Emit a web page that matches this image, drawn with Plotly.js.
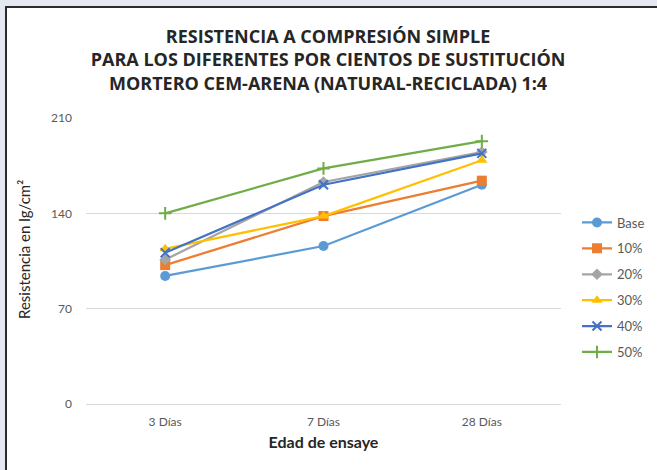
<!DOCTYPE html>
<html>
<head>
<meta charset="utf-8">
<script src="https://cdn.plot.ly/plotly-3.0.1.min.js"></script>
<style>
  html, body { margin: 0; padding: 0; background: #e4e8f1; overflow: hidden; }
  #frame {
    position: absolute; left: 5px; top: 6px;
    border-left: 2px solid #2b2b2b; border-top: 2px solid #2b2b2b;
    box-shadow: inset 1px 1px 0 #a0a0a0;
    background: #ffffff;
  }
  #chart { width: 650px; height: 462px; }
</style>
</head>
<body>
<div id="frame"><div id="chart"></div></div>
<script>
// Edad de ensaye (categorías del eje X)
const edades = ['3 Días', '7 Días', '28 Días'];

// Resistencia (kg/cm²) por porcentaje de sustitución
const base = [94, 116, 161];
const p10 = [102, 138, 164];
const p20 = [106, 163, 185];
const p30 = [114, 138, 179];
const p40 = [111, 161, 184];
const p50 = [140, 173, 193];

const yTicks = [0, 70, 140, 210];

const series = [
  { name: 'Base', y: base, color: '#5B9BD5', symbol: 'circle', size: 10 },
  { name: '10%',  y: p10,  color: '#ED7D31', symbol: 'square', size: 10 },
  { name: '20%',  y: p20,  color: '#A5A5A5', symbol: 'diamond', size: 9 },
  { name: '30%',  y: p30,  color: '#FFC000', symbol: 'triangle-up', size: 10 },
  { name: '40%',  y: p40,  color: '#4472C4', symbol: 'x-thin-open', size: 9 },
  { name: '50%',  y: p50,  color: '#70AD47', symbol: 'cross-thin-open', size: 9 }
];

const traces = series.map((s, i) => ({
  type: 'scatter',
  mode: 'lines+markers',
  name: s.name,
  x: edades,
  y: s.y,
  legendgroup: 'g' + i,
  line: { color: s.color, width: 2.25 },
  marker: {
    symbol: s.symbol, size: s.size, color: s.color,
    line: { color: s.color, width: s.symbol.indexOf('open') >= 0 ? 2 : 0 }
  }
}));

const layout = {
  width: 650,
  height: 462,
  paper_bgcolor: '#ffffff',
  plot_bgcolor: '#ffffff',
  font: { family: 'Lato, "Open Sans", sans-serif', color: '#595959', size: 12 },
  margin: { l: 79, r: 96, t: 110, b: 66 },
  title: {
    text: 'RESISTENCIA A COMPRESIÓN SIMPLE<br>PARA LOS DIFERENTES POR CIENTOS DE SUSTITUCIÓN<br>MORTERO CEM-ARENA (NATURAL-RECICLADA) 1:4',
    font: { family: '"Open Sans", Lato, sans-serif', size: 18, color: '#262626', weight: 'bold' },
    xref: 'container', x: 0.494, xanchor: 'center',
    yref: 'container', y: 1 - 35 / 462, yanchor: 'top'
  },
  xaxis: {
    type: 'category',
    categoryarray: edades,
    range: [-0.5, 2.5],
    automargin: false,
    showgrid: false,
    zeroline: false,
    showline: false,
    ticks: '',
    ticklabelstandoff: 9,
    tickfont: { size: 12, color: '#595959' },
    title: {
      text: 'Edad de ensaye',
      font: { size: 16, color: '#262626', weight: 'bold' },
      standoff: 8
    }
  },
  yaxis: {
    range: [0, 210],
    automargin: false,
    tickvals: yTicks,
    ticktext: yTicks.map(String),
    showgrid: true,
    gridcolor: '#d9d9d9',
    gridwidth: 1,
    zeroline: true,
    zerolinecolor: '#d9d9d9',
    zerolinewidth: 1,
    showline: false,
    ticks: '',
    ticklabelstandoff: 13,
    tickfont: { size: 12, color: '#595959' }
  },
  annotations: [{
    // título del eje Y, centrado un poco por encima del área de trazado
    text: 'Resistencia en lg/cm²',
    textangle: -90,
    xref: 'paper', x: -62 / 475, xanchor: 'center',
    yref: 'paper', y: (396 - 242) / 286, yanchor: 'middle',
    showarrow: false,
    font: { size: 15, color: '#262626' }
  }],
  legend: {
    xref: 'container', x: 570 / 650, xanchor: 'left',
    yref: 'container', y: 1 - 199.5 / 462, yanchor: 'top',
    font: { size: 13, color: '#595959' },
    tracegroupgap: 6,
    bgcolor: 'rgba(0,0,0,0)'
  },
  showlegend: true
};

Plotly.newPlot('chart', traces, layout, { displayModeBar: false, staticPlot: true });
</script>
</body>
</html>
